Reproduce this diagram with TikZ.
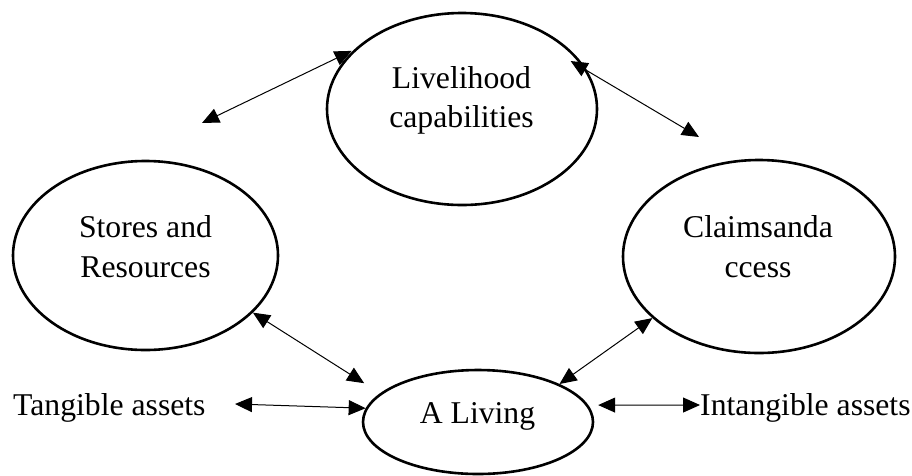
\documentclass[tikz,border=0pt]{standalone}
\usepackage{fontspec}
\setmainfont{Liberation Serif}
\usetikzlibrary{arrows.meta,shapes.geometric}
\begin{document}
\begin{tikzpicture}[x=1pt,y=1pt,
  bubble/.style={draw, ellipse, line width=2.6pt, inner sep=0pt},
  lbl/.style={inner sep=0pt, font=\fontsize{31.7}{40}\selectfont},
  link/.style={line width=1pt, {Triangle[length=17pt,width=15pt]}-{Triangle[length=17pt,width=15pt]}}]
\useasboundingbox (0,0) rectangle (912,-475);
\fill[white] (0,0) rectangle (912,-475);
% ellipses
\node[bubble, minimum width=270pt, minimum height=192pt] (top) at (462,-109) {};
\node[bubble, minimum width=265pt, minimum height=189pt] (left) at (145.5,-255.5) {};
\node[bubble, minimum width=272pt, minimum height=193pt] (right) at (759,-256.5) {};
\node[bubble, minimum width=230pt, minimum height=104pt] (bot) at (478,-422) {};
% texts
\node[lbl, anchor=base] (topt) at (461.5,-88) {\begin{tabular}[t]{@{}c@{}}Livelihood\\[-1pt]capabilities\end{tabular}};
\node[lbl, anchor=base] (leftt) at (145.5,-237) {\begin{tabular}[t]{@{}c@{}}Stores and\\Resources\end{tabular}};
\node[lbl, anchor=base] (rightt) at (758,-237) {\begin{tabular}[t]{@{}c@{}}Claimsanda\\ccess\end{tabular}};
\node[lbl, anchor=base] (bott) at (477.5,-423) {A Living};
\node[lbl, anchor=base west] (tang) at (13,-415) {Tangible assets};
\node[lbl, anchor=base west] (intg) at (700,-415) {Intangible assets};
% free ends
\coordinate (a1) at (202,-123);
\coordinate (a2) at (699,-137);
\coordinate (tl) at (235,-404);
\coordinate (ir) at (700,-405);
% connectors
\draw[link] (a1) -- ([xshift=-1pt]top.152);
\draw[link] ([xshift=-7pt,yshift=-3.5pt]top.24) -- (a2);
\draw[link] (left.-28) -- ([xshift=-19pt,yshift=8pt]bot.162);
\draw[link] (right.210) -- (bot.25);
\draw[link] (tl) -- (bot.173);
\draw[link] ([xshift=9pt,yshift=1.3pt]bot.8) -- (ir);
\end{tikzpicture}
\end{document}
